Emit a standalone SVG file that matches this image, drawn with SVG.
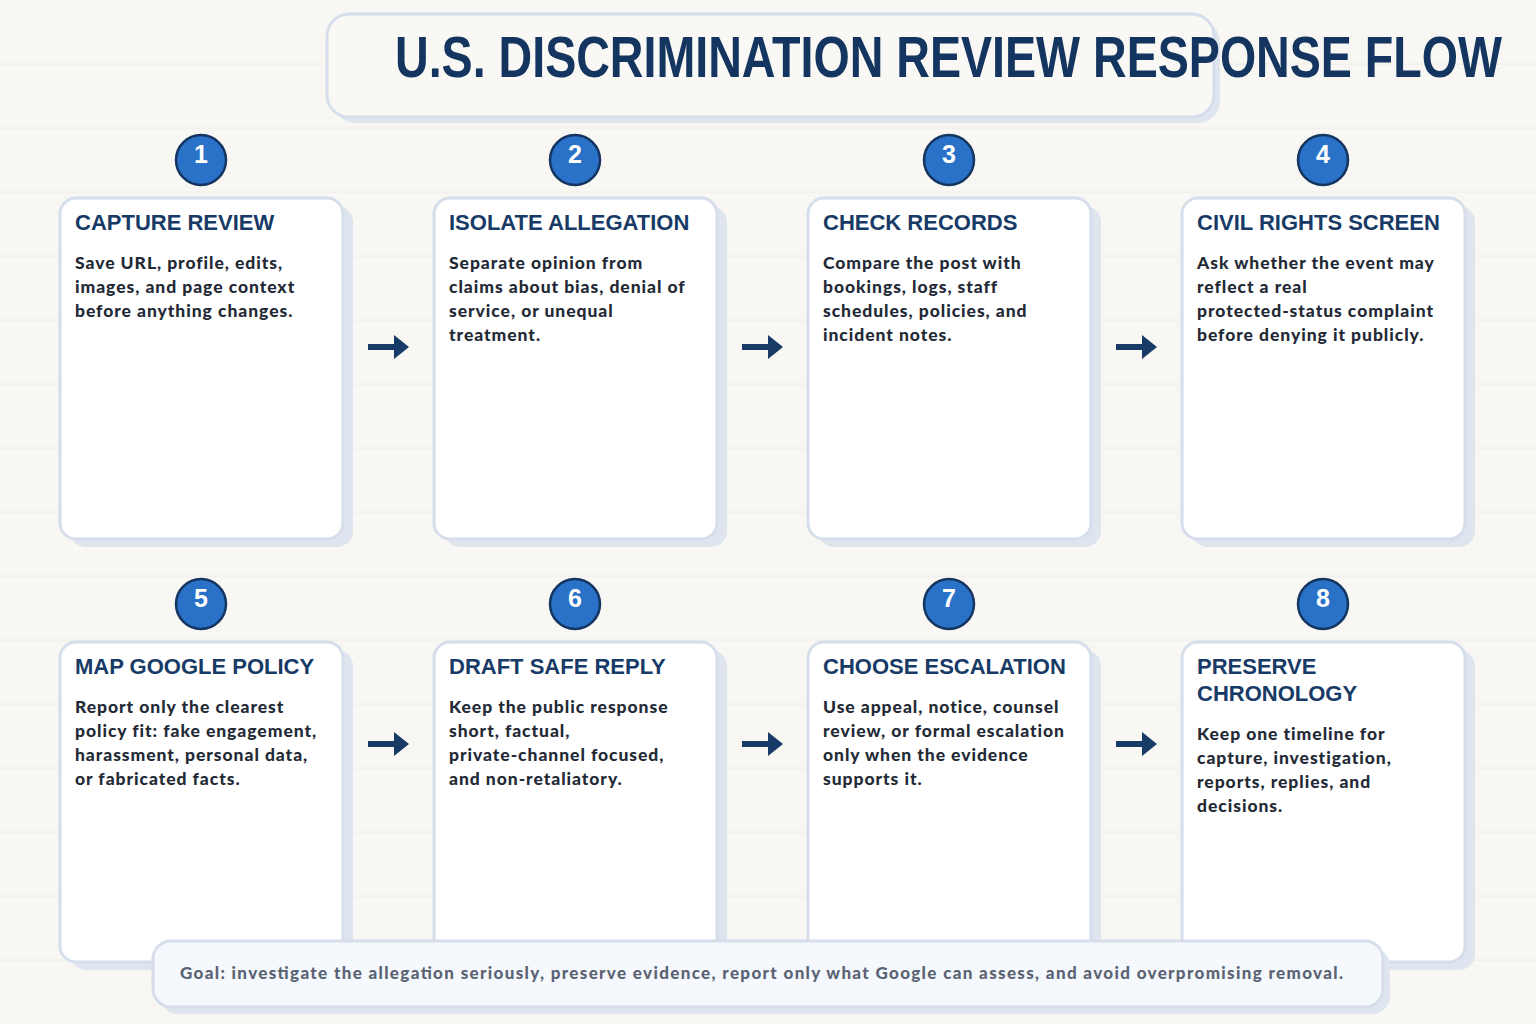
<svg xmlns="http://www.w3.org/2000/svg" width="1536" height="1024" viewBox="0 0 1536 1024">
<style>
.card{fill:#fff;stroke:#d5deea;stroke-width:3}
.sh{fill:#dfe5ef}
.num{fill:#2a72c8;stroke:#143560;stroke-width:2.5}
.nt{font-family:"Liberation Sans",Arial,sans-serif;font-weight:700;font-size:25px;fill:#fff;text-anchor:middle}
.h{font-family:"Liberation Sans",Arial,sans-serif;font-weight:700;font-size:22px;fill:#173a66}
.b{font-family:Lato,"Liberation Sans",sans-serif;font-weight:900;font-size:17.5px;letter-spacing:0.95px;fill:#232a36}
.ar{fill:#173a66}
.gl{stroke:#eeece6;stroke-width:1}
</style>
<defs>
<path id="arrow" d="M0,-3 H26 V-12 L41,0 L26,12 V3 H0 Z"/>
</defs>
<rect width="1536" height="1024" fill="#f8f7f4"/>
<g class="gl">
<line x1="0" y1="64" x2="1536" y2="64"/><line x1="0" y1="128" x2="1536" y2="128"/><line x1="0" y1="192" x2="1536" y2="192"/><line x1="0" y1="256" x2="1536" y2="256"/><line x1="0" y1="320" x2="1536" y2="320"/><line x1="0" y1="384" x2="1536" y2="384"/><line x1="0" y1="448" x2="1536" y2="448"/><line x1="0" y1="512" x2="1536" y2="512"/><line x1="0" y1="576" x2="1536" y2="576"/><line x1="0" y1="640" x2="1536" y2="640"/><line x1="0" y1="704" x2="1536" y2="704"/><line x1="0" y1="768" x2="1536" y2="768"/><line x1="0" y1="832" x2="1536" y2="832"/><line x1="0" y1="896" x2="1536" y2="896"/><line x1="0" y1="960" x2="1536" y2="960"/>
</g>
<g id="title">
<rect x="333" y="20" width="887" height="103" rx="22" class="sh"/>
<rect x="327" y="14" width="887" height="103" rx="22" fill="#f9f8f5" stroke="#d5deea" stroke-width="3"/>
<text x="395" y="77" font-family="'Liberation Sans',Arial,sans-serif" font-weight="700" font-size="58" fill="#143560" textLength="1107" lengthAdjust="spacingAndGlyphs">U.S. DISCRIMINATION REVIEW RESPONSE FLOW</text>
</g>
<g id="connectors">
<use href="#arrow" x="368" y="347" class="ar"/>
<use href="#arrow" x="742" y="347" class="ar"/>
<use href="#arrow" x="1116" y="347" class="ar"/>
<use href="#arrow" x="368" y="744" class="ar"/>
<use href="#arrow" x="742" y="744" class="ar"/>
<use href="#arrow" x="1116" y="744" class="ar"/>
</g>
<g id="n1">
<rect x="70" y="206" width="283" height="341" rx="16" class="sh"/>
<rect x="60" y="198" width="283" height="341" rx="16" class="card"/>
<circle cx="201" cy="160" r="25" class="num"/><text x="201" y="163" class="nt">1</text>
<text x="75" y="230" class="h">CAPTURE REVIEW</text>
<text class="b"><tspan x="75" y="269">Save URL, profile, edits,</tspan><tspan x="75" y="293">images, and page context</tspan><tspan x="75" y="317">before anything changes.</tspan></text>
</g>
<g id="n2">
<rect x="444" y="206" width="283" height="341" rx="16" class="sh"/>
<rect x="434" y="198" width="283" height="341" rx="16" class="card"/>
<circle cx="575" cy="160" r="25" class="num"/><text x="575" y="163" class="nt">2</text>
<text x="449" y="230" class="h">ISOLATE ALLEGATION</text>
<text class="b"><tspan x="449" y="269">Separate opinion from</tspan><tspan x="449" y="293">claims about bias, denial of</tspan><tspan x="449" y="317">service, or unequal</tspan><tspan x="449" y="341">treatment.</tspan></text>
</g>
<g id="n3">
<rect x="818" y="206" width="283" height="341" rx="16" class="sh"/>
<rect x="808" y="198" width="283" height="341" rx="16" class="card"/>
<circle cx="949" cy="160" r="25" class="num"/><text x="949" y="163" class="nt">3</text>
<text x="823" y="230" class="h">CHECK RECORDS</text>
<text class="b"><tspan x="823" y="269">Compare the post with</tspan><tspan x="823" y="293">bookings, logs, staff</tspan><tspan x="823" y="317">schedules, policies, and</tspan><tspan x="823" y="341">incident notes.</tspan></text>
</g>
<g id="n4">
<rect x="1192" y="206" width="283" height="341" rx="16" class="sh"/>
<rect x="1182" y="198" width="283" height="341" rx="16" class="card"/>
<circle cx="1323" cy="160" r="25" class="num"/><text x="1323" y="163" class="nt">4</text>
<text x="1197" y="230" class="h">CIVIL RIGHTS SCREEN</text>
<text class="b"><tspan x="1197" y="269">Ask whether the event may</tspan><tspan x="1197" y="293">reflect a real</tspan><tspan x="1197" y="317">protected-status complaint</tspan><tspan x="1197" y="341">before denying it publicly.</tspan></text>
</g>
<g id="n5">
<rect x="70" y="650" width="283" height="320" rx="16" class="sh"/>
<rect x="60" y="642" width="283" height="320" rx="16" class="card"/>
<circle cx="201" cy="604" r="25" class="num"/><text x="201" y="607" class="nt">5</text>
<text x="75" y="674" class="h">MAP GOOGLE POLICY</text>
<text class="b"><tspan x="75" y="713">Report only the clearest</tspan><tspan x="75" y="737">policy fit: fake engagement,</tspan><tspan x="75" y="761">harassment, personal data,</tspan><tspan x="75" y="785">or fabricated facts.</tspan></text>
</g>
<g id="n6">
<rect x="444" y="650" width="283" height="320" rx="16" class="sh"/>
<rect x="434" y="642" width="283" height="320" rx="16" class="card"/>
<circle cx="575" cy="604" r="25" class="num"/><text x="575" y="607" class="nt">6</text>
<text x="449" y="674" class="h">DRAFT SAFE REPLY</text>
<text class="b"><tspan x="449" y="713">Keep the public response</tspan><tspan x="449" y="737">short, factual,</tspan><tspan x="449" y="761">private-channel focused,</tspan><tspan x="449" y="785">and non-retaliatory.</tspan></text>
</g>
<g id="n7">
<rect x="818" y="650" width="283" height="320" rx="16" class="sh"/>
<rect x="808" y="642" width="283" height="320" rx="16" class="card"/>
<circle cx="949" cy="604" r="25" class="num"/><text x="949" y="607" class="nt">7</text>
<text x="823" y="674" class="h">CHOOSE ESCALATION</text>
<text class="b"><tspan x="823" y="713">Use appeal, notice, counsel</tspan><tspan x="823" y="737">review, or formal escalation</tspan><tspan x="823" y="761">only when the evidence</tspan><tspan x="823" y="785">supports it.</tspan></text>
</g>
<g id="n8">
<rect x="1192" y="650" width="283" height="320" rx="16" class="sh"/>
<rect x="1182" y="642" width="283" height="320" rx="16" class="card"/>
<circle cx="1323" cy="604" r="25" class="num"/><text x="1323" y="607" class="nt">8</text>
<text class="h"><tspan x="1197" y="674">PRESERVE</tspan><tspan x="1197" y="701">CHRONOLOGY</tspan></text>
<text class="b"><tspan x="1197" y="740">Keep one timeline for</tspan><tspan x="1197" y="764">capture, investigation,</tspan><tspan x="1197" y="788">reports, replies, and</tspan><tspan x="1197" y="812">decisions.</tspan></text>
</g>
<g id="goal">
<rect x="160" y="948" width="1230" height="66" rx="18" class="sh"/>
<rect x="153" y="941" width="1230" height="66" rx="18" fill="#f5f8fc" stroke="#d5deea" stroke-width="3"/>
<text x="180" y="979" font-family="Lato,'Liberation Sans',sans-serif" font-weight="900" font-size="17" fill="#5a6373" textLength="1163" lengthAdjust="spacing">Goal: investigate the allegation seriously, preserve evidence, report only what Google can assess, and avoid overpromising removal.</text>
</g>
</svg>
